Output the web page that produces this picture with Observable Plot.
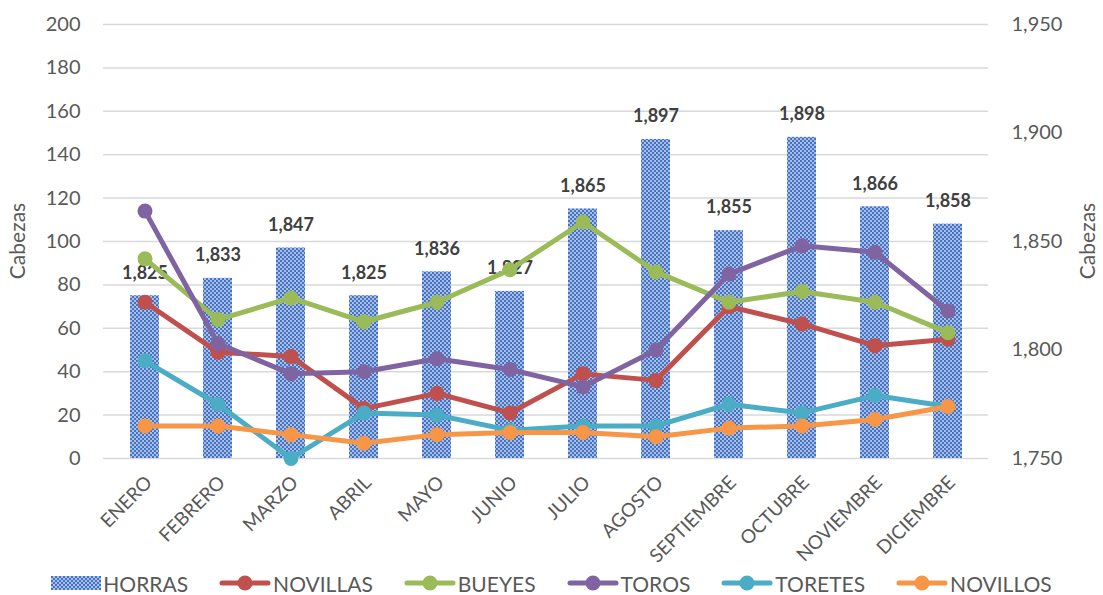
<!DOCTYPE html>
<html>
<head>
<meta charset="utf-8">
<script src="https://cdn.jsdelivr.net/npm/d3@7"></script>
<script src="https://cdn.jsdelivr.net/npm/@observablehq/plot@0.6"></script>
<style>
  html, body { margin: 0; padding: 0; background: #fff; }
  body { width: 1103px; height: 595px; overflow: hidden; font-family: Lato, "Open Sans", sans-serif; }
  #legend { display: flex; justify-content: center; align-items: center; gap: 31px; height: 22px; font-size: 21px; color: #595959; margin-left: 0px; }
  #legend .item { display: flex; align-items: center; gap: 2px; }
</style>
</head>
<body>
<div id="chart"></div>
<div id="legend"></div>
<script>
const months = ["ENERO","FEBRERO","MARZO","ABRIL","MAYO","JUNIO","JULIO","AGOSTO","SEPTIEMBRE","OCTUBRE","NOVIEMBRE","DICIEMBRE"];
const horras   = [1825,1833,1847,1825,1836,1827,1865,1897,1855,1898,1866,1858];
const novillas = [72,49,47,23,30,21,39,36,70,62,52,55];
const bueyes   = [92,64,74,63,72,87,109,86,72,77,72,58];
const toros    = [114,53,39,40,46,41,33,50,85,98,95,68];
const toretes  = [45,25,0,21,20,13,15,15,25,21,29,24];
const novillos = [15,15,11,7,11,12,12,10,14,15,18,24];
const leftTicks = [0,20,40,60,80,100,120,140,160,180,200];
const rightTicks = [1750,1800,1850,1900,1950];
const rightBase = 1750;
const axisTitle = "Cabezas";

const seriesDefs = [
  {name: "NOVILLAS", values: novillas, color: "#C0504D"},
  {name: "BUEYES", values: bueyes, color: "#9BBB59"},
  {name: "TOROS", values: toros, color: "#8064A2"},
  {name: "TORETES", values: toretes, color: "#4BACC6"},
  {name: "NOVILLOS", values: novillos, color: "#F79646"}
];

const bars = months.map((m, i) => ({month: m, value: horras[i]}));
const fmt = d3.format(",");

const W = 1103, H = 572, mL = 103, mR = 115, mT = 24, mB = H - 458;

const marks = [
  Plot.ruleY(leftTicks, {stroke: "#d9d9d9", strokeWidth: 1.5}),
  Plot.barY(bars, {x: "month", y1: 0, y2: d => d.value - rightBase, fill: "url(#horrasPat)"}),
  Plot.text(bars, {x: "month", y: d => d.value - rightBase, text: d => fmt(d.value), dy: -23, fontWeight: "bold", fontSize: 18, fill: "#404040"})
];
for (const s of seriesDefs) {
  const data = months.map((m, i) => ({month: m, v: s.values[i]}));
  marks.push(Plot.line(data, {x: "month", y: "v", stroke: s.color, strokeWidth: 5}));
  marks.push(Plot.dot(data, {x: "month", y: "v", fill: s.color, r: 7.5}));
}
marks.push(Plot.axisY({anchor: "left", ticks: leftTicks, tickSize: 0, tickPadding: 23, fontSize: 20, color: "#595959", label: null}));
marks.push(Plot.axisY({anchor: "right", ticks: rightTicks.map(t => t - rightBase), tickFormat: d => fmt(d + rightBase), tickSize: 0, tickPadding: 23, fontSize: 20, color: "#595959", label: null}));
marks.push(Plot.axisX({tickRotate: -45, tickSize: 0, tickPadding: 21, dx: 4, fontSize: 19, color: "#595959", label: null}));

const chart = Plot.plot({
  width: W,
  height: H,
  marginLeft: mL,
  marginRight: mR,
  marginTop: mT,
  marginBottom: mB,
  style: {fontFamily: "Lato, 'Open Sans', sans-serif", background: "#fff"},
  x: {domain: months, paddingInner: 0.607, paddingOuter: 0.3035},
  y: {domain: [0, 200]},
  marks
});

const svg = d3.select(chart);
const defs = svg.insert("defs", ":first-child");
const pat = defs.append("pattern").attr("id", "horrasPat").attr("patternUnits", "userSpaceOnUse").attr("width", 8).attr("height", 8);
pat.append("rect").attr("width", 8).attr("height", 8).attr("fill", "#ffffff");
for (let yy = 0; yy < 8; yy += 2) for (let xx = 0; xx < 8; xx += 2) {
  if (((xx + yy) / 2) % 2 === 0) pat.append("rect").attr("x", xx).attr("y", yy).attr("width", 2).attr("height", 2).attr("fill", "#4472C4");
  else if (!(xx === 6 && yy === 6) && !(xx === 2 && yy === 2)) pat.append("rect").attr("x", xx).attr("y", yy).attr("width", 2).attr("height", 2).attr("fill", "#A9BFE6");
}
// axis titles
const cy = (mT + 458) / 2;
svg.append("text").attr("transform", `translate(20,${cy}) rotate(-90)`).attr("text-anchor", "middle").attr("dominant-baseline", "middle")
  .attr("font-size", 21).attr("fill", "#595959").text(axisTitle);
svg.append("text").attr("transform", `translate(1090,${cy}) rotate(-90)`).attr("text-anchor", "middle").attr("dominant-baseline", "middle")
  .attr("font-size", 21).attr("fill", "#595959").text(axisTitle);
document.getElementById("chart").appendChild(chart);

// legend
const legend = d3.select("#legend");
const li = legend.append("div").attr("class", "item");
const sw = li.append("svg").attr("width", 50).attr("height", 14);
const d2 = sw.append("defs");
const p2 = d2.append("pattern").attr("id", "horrasPat2").attr("patternUnits", "userSpaceOnUse").attr("width", 4).attr("height", 4);
p2.append("rect").attr("width", 4).attr("height", 4).attr("fill", "#A9BFE6");
p2.append("rect").attr("width", 2).attr("height", 2).attr("fill", "#4472C4");
p2.append("rect").attr("x", 2).attr("y", 2).attr("width", 2).attr("height", 2).attr("fill", "#4472C4");
sw.append("rect").attr("x", 0).attr("y", 0).attr("width", 50).attr("height", 14).attr("fill", "url(#horrasPat2)");
li.append("span").text("HORRAS");
for (const s of seriesDefs) {
  const it = legend.append("div").attr("class", "item");
  const sv = it.append("svg").attr("width", 52).attr("height", 18);
  sv.append("line").attr("x1", 3).attr("x2", 49).attr("y1", 9).attr("y2", 9).attr("stroke", s.color).attr("stroke-width", 5).attr("stroke-linecap", "round");
  sv.append("circle").attr("cx", 26).attr("cy", 9).attr("r", 7.5).attr("fill", s.color);
  it.append("span").text(s.name);
}
</script>
</body>
</html>
